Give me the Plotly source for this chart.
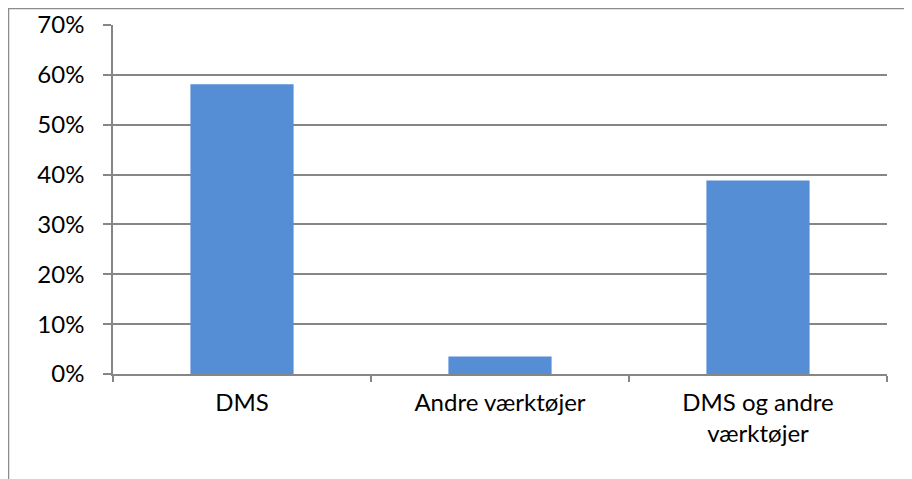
import plotly.graph_objects as go

categories = ["DMS", "Andre værktøjer", "DMS og andre<br>værktøjer"]
values = [58.1, 3.5, 38.8]
y_ticks = [0, 10, 20, 30, 40, 50, 60, 70]
y_tick_text = [f"{v}%" for v in y_ticks]

# page body has an 8px default margin, so the figure is placed at (8, 8)
OFF = 8
W, H = 912 - OFF, 479 - OFF
ML, MR, MT, MB = 113 - OFF, 25, 25 - OFF, 105
pw, ph = W - ML - MR, H - MT - MB

fig = go.Figure(go.Bar(x=categories, y=values, marker=dict(color="#558ED5", line=dict(width=0)),
                       width=0.4))

font = dict(family="Lato, Carlito, sans-serif", size=24, color="#000000")
grid = "#868686"

fig.update_layout(
    width=W, height=H,
    margin=dict(l=ML, r=MR, t=MT, b=MB, autoexpand=False),
    paper_bgcolor="white", plot_bgcolor="white",
    font=font, showlegend=False, bargap=0.6,
    xaxis=dict(showline=True, linecolor=grid, linewidth=1.5, ticks="outside", tickson="boundaries",
               ticklen=6, tickcolor=grid, tickwidth=1.5, showgrid=False, tickfont=font,
               ticklabelstandoff=6, automargin=False),
    yaxis=dict(range=[0, 70], tickmode="array", tickvals=y_ticks, ticktext=y_tick_text,
               showline=True, linecolor=grid,
               linewidth=1.5, ticks="outside", ticklen=8, tickcolor=grid, tickwidth=1.5,
               showgrid=True, gridcolor=grid, gridwidth=1.5, zeroline=False, tickfont=font,
               ticklabelstandoff=14, automargin=False),
)

# outer chart border (extends beyond the right and bottom edges of the image)
fig.add_shape(type="rect", xref="paper", yref="paper",
              x0=(0.5 - ML) / pw, x1=(W + 20 - ML) / pw,
              y0=-(H + 20 - (MT + ph)) / ph, y1=(MT + ph - 0.5) / ph,
              line=dict(color="#8c8c8c", width=1.5), fillcolor="rgba(0,0,0,0)", layer="below")

fig.write_html("out.html")
